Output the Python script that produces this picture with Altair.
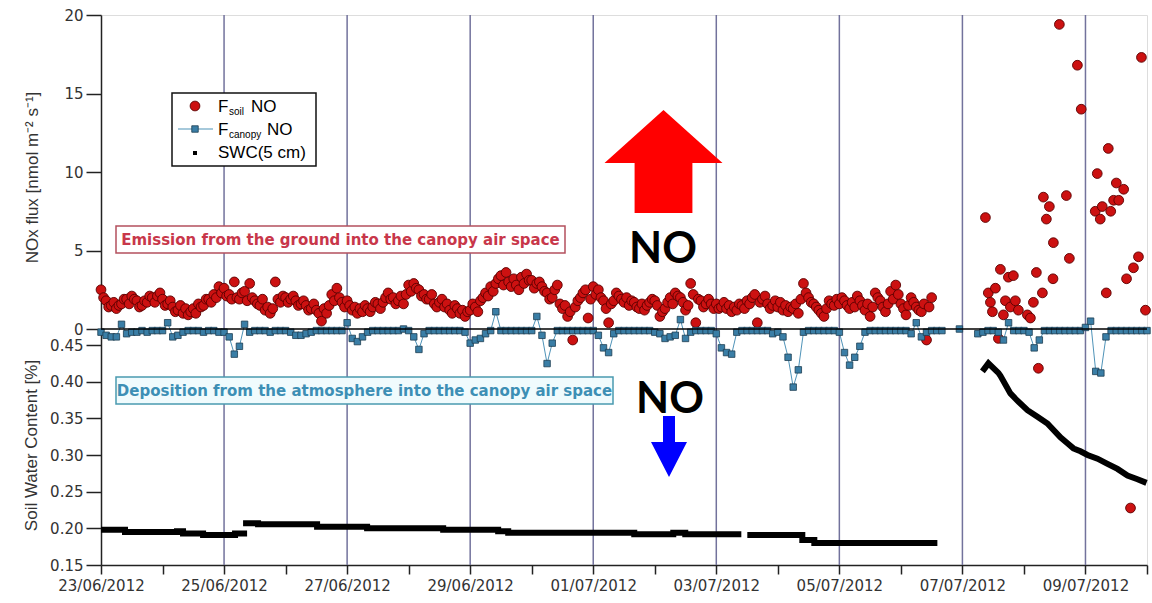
import altair as alt
import pandas as pd

# ---------------- time frame ----------------
X_START = alt.DateTime(year=2012, month=6, date=23)
X_END = alt.DateTime(year=2012, month=7, date=10)
axis_days = [(6, d) for d in range(23, 31)] + [(7, d) for d in range(1, 11)]
grid_dates = ["2012-06-25", "2012-06-27", "2012-06-29", "2012-07-01",
              "2012-07-03", "2012-07-05", "2012-07-07", "2012-07-09"]

# ---------------- F_soil NO [nmol m-2 s-1] ----------------
# hourly values from 23/06/2012 00:00, split into even and odd hours
soil_even_start = "2012-06-23 00:00"
soil_no_even = [
    2.5, 1.8, 1.5, 1.3, 1.6, 1.9, 2.1, 1.8, 1.5, 1.7, 2.0, 2.1,
    1.9, 1.6, 1.4, 1.2, 1.0, 0.9, 1.3, 1.6, 1.5, 1.9, 2.2, 2.7,
    2.6, 2.2, 3.0, 1.9, 2.4, 2.9, 1.8, 1.5, 1.2, 1.0, 3.0, 1.7,
    2.0, 1.9, 1.8, 1.6, 1.5, 1.3, 1.2, 0.5, 1.0, 2.2, 2.6, 1.7,
    1.8, 1.2, 1.0, 1.1, 1.3, 1.4, 1.6, 1.7, 2.3, 2.0, 1.8, 1.6,
    2.8, 2.9, 2.5, 2.2, 1.9, 1.6, 1.7, 1.4, 1.2, 1.5, 1.0, 0.8,
    1.2, 1.4, 1.8, 2.3, 2.7, 2.9, 3.4, 3.6, 2.7, 2.8, 3.3, 3.5,
    3.1, 2.9, 2.7, 2.3, 2.0, 2.8, 1.3, 0.8, -0.7, 1.8, 2.3, 0.7,
    2.7, 2.5, 1.8, 0.4, 1.8, 2.1, 1.7, 1.5, 1.7, 1.3, 1.2, 1.7,
    1.8, 0.8, 1.3, 2.0, 2.3, 2.0, 1.2, 2.9, 0.4, 1.8, 1.6, 1.6,
    1.6, 1.4, 1.3, 1.1, 1.2, 1.5, 1.8, 2.0, 0.4, 1.9, 1.6, 1.5,
    1.4, 1.2, 1.1, 1.3, 1.0, 2.9, 2.0, 1.6, 1.2, 0.8, 1.8, 1.5,
    1.6, 1.8, 1.3, 1.4, 1.8, 1.2, 0.8, 2.3, 1.8, 1.1, 2.4, 2.8,
    1.6, 0.9, 2.0, 1.4, 1.1, -0.7, 2.0,
]
soil_odd_start = "2012-06-23 01:00"
soil_no_odd = [
    2.0, 1.4, 1.7, 1.5, 1.9, 1.6, 1.9, 1.4, 1.8, 2.1, 1.7, 2.3,
    1.5, 1.8, 1.1, 1.5, 1.3, 1.1, 1.0, 1.4, 1.9, 1.7, 2.0, 2.3,
    2.1, 1.9, 2.0, 2.3, 1.8, 2.0, 1.6, 1.9, 1.4, 1.3, 1.9, 2.1,
    1.7, 2.1, 1.5, 1.8, 1.2, 1.6, 1.0, 1.3, 1.5, 1.8, 2.0, 1.4,
    1.5, 1.4, 1.3, 1.5, 1.1, 1.7, 1.3, 2.0, 1.9, 1.6, 2.1, 2.2,
    2.4, 2.6, 2.1, 1.9, 2.2, 1.4, 1.9, 1.6, 1.0, 1.3, 1.2, 1.1,
    1.6, 1.1, 2.0, 2.1, 2.4, 3.2, 2.8, 3.0, 3.2, 2.5, 2.9, 3.1,
    2.6, 3.0, 2.4, 1.9, 2.5, 1.6, 1.5, 1.1, 1.4, 2.0, 2.5, 1.9,
    2.2, 2.0, 1.3, 1.6, 2.3, 1.9, 2.0, 1.8, 1.4, 1.6, 1.5, 1.9,
    1.5, 1.1, 1.7, 1.6, 2.1, 1.7, 1.5, 2.2, 1.9, 1.4, 1.9, 1.3,
    1.3, 1.7, 1.5, 1.4, 1.6, 1.3, 1.6, 2.2, 1.7, 2.1, 1.3, 1.8,
    1.7, 1.5, 1.4, 1.6, 1.9, 2.3, 1.7, 1.4, 1.0, 1.3, 1.6, 1.9,
    2.0, 1.5, 1.7, 2.1, 1.5, 1.6, 1.4, 2.0, 1.4, 1.6, 1.9, 2.2,
    1.3, 1.5, 1.7, 1.2, 1.6, 1.4,
]
# irregular measurements after the gap
soil_late_time = [
    "2012-07-07 08:59", "2012-07-07 10:06", "2012-07-07 10:55", "2012-07-07 11:42",
    "2012-07-07 12:52", "2012-07-07 14:02", "2012-07-07 14:49", "2012-07-07 15:59",
    "2012-07-07 16:46", "2012-07-07 17:56", "2012-07-07 18:43", "2012-07-07 19:53",
    "2012-07-07 20:40", "2012-07-07 21:50", "2012-07-08 01:21", "2012-07-08 02:31",
    "2012-07-08 03:41", "2012-07-08 04:51", "2012-07-08 05:38", "2012-07-08 07:12",
    "2012-07-08 07:35", "2012-07-08 08:45", "2012-07-08 09:55", "2012-07-08 11:29",
    "2012-07-08 11:20", "2012-07-08 13:49", "2012-07-08 16:33", "2012-07-08 17:43",
    "2012-07-08 20:51", "2012-07-08 22:21", "2012-07-09 03:49", "2012-07-09 04:36",
    "2012-07-09 05:46", "2012-07-09 06:33", "2012-07-09 08:07", "2012-07-09 08:54",
    "2012-07-09 09:51", "2012-07-09 10:58", "2012-07-09 12:02", "2012-07-09 12:59",
    "2012-07-09 14:54", "2012-07-09 16:01", "2012-07-09 17:34", "2012-07-09 18:43",
    "2012-07-09 20:40", "2012-07-09 21:50", "2012-07-09 23:24",
]
soil_late = [
    7.1, 2.3, 1.7, 1.1, 2.6, -0.6, 3.8, 0.9, 1.8, 3.3, 1.4, 3.4,
    1.8, 1.2, 0.9, 0.7, 1.7, 3.6, -2.5, 2.3, 8.4, 7.0, 7.8, 5.5,
    3.2, 19.4, 8.5, 4.5, 16.8, 14.0, 7.5, 9.9, 7.0, 7.8, 2.3, 11.5,
    7.5, 8.2, 9.3, 8.2, 8.9, 3.2, -11.4, 3.9, 4.6, 17.3, 1.2,
]

# ---------------- F_canopy NO [nmol m-2 s-1] ----------------
canopy_start = "2012-06-23 00:00"
canopy_no = [
    -0.2, -0.4, -0.5, -0.5, 0.3, -0.3, -0.2, -0.2, -0.1, -0.2, -0.1, -0.1,
    -0.1, 0.4, -0.5, -0.4, -0.2, -0.1, -0.1, -0.1, -0.2, -0.1, -0.1, -0.2,
    -0.2, -0.5, -1.6, -1.1, 0.3, -0.2, -0.1, -0.1, -0.1, -0.2, -0.1, -0.1,
    -0.1, -0.2, -0.4, -0.4, -0.3, -0.2, -0.1, -0.1, -0.1, -0.1, -0.1, -0.1,
    0.4, -0.6, -0.8, -0.5, -0.2, -0.1, -0.1, -0.1, -0.1, -0.1, -0.1, 0.0,
    -0.1, -0.5, -1.3, -0.3, -0.1, -0.1, -0.1, -0.1, -0.1, -0.1, -0.1, -0.2,
    -0.9, -0.7, -0.6, -0.3, -0.1, 1.1, -0.1, -0.1, -0.1, -0.1, -0.1, -0.1,
    -0.1, 0.8, -0.4, -2.2, -0.9, -0.1, -0.1, -0.1, -0.1, -0.1, -0.1, -0.1,
    -0.1, -0.4, -1.2, -1.5, -0.3, -0.1, -0.1, -0.1, -0.1, -0.1, -0.1, -0.1,
    -0.2, -0.3, -0.6, -0.5, -0.4, 0.6, -0.6, -0.2, -0.1, -0.1, -0.1, -0.1,
    -0.3, -1.2, -1.5, -1.6, -0.2, -0.1, -0.1, -0.1, -0.1, -0.1, -0.1, -0.3,
    -0.2, -0.5, -1.8, -3.7, -2.6, -0.2, -0.1, -0.1, -0.1, -0.1, -0.1, -0.1,
    -0.2, -1.5, -2.3, -1.8, -1.1, -0.2, -0.1, -0.1, -0.1, -0.1, -0.1, -0.1,
    -0.1, -0.1, -0.3, 0.4, -0.5, -0.2, -0.1, -0.1, -0.1,
]
canopy_single_time = ["2012-07-06 22:50"]
canopy_single = [0.0]
canopy_late_start = "2012-07-07 06:00"
canopy_late = [
    -0.3, -0.2, -0.1, -0.1, -0.2, -0.7, 0.4, -0.1, -0.1, -0.1, -0.2, -1.2,
    -0.7, -0.1, -0.1, -0.1, -0.1, -0.1, -0.1, -0.1, -0.1, 0.1, 0.5, -2.7,
    -2.8, -0.5, -0.1, -0.1, -0.1, -0.1, -0.1, -0.1, -0.1, -0.1,
]

# ---------------- SWC (5 cm) ----------------
swc_time = [
    "2012-06-23 00:00", "2012-06-23 09:22", "2012-06-23 09:22", "2012-06-24 05:39",
    "2012-06-24 05:39", "2012-06-24 08:00", "2012-06-24 08:00", "2012-06-24 15:49",
    "2012-06-24 15:49", "2012-06-25 04:17", "2012-06-25 04:17", "2012-06-25 08:59",
    "2012-06-25 07:25", "2012-06-25 13:16", "2012-06-25 13:16", "2012-06-26 12:17",
    "2012-06-26 12:17", "2012-06-27 07:48", "2012-06-27 07:48", "2012-06-28 13:28",
    "2012-06-28 13:28", "2012-06-29 10:55", "2012-06-29 10:55", "2012-06-29 14:50",
    "2012-06-29 14:50", "2012-07-01 16:00", "2012-07-01 16:00", "2012-07-02 07:13",
    "2012-07-02 07:13", "2012-07-02 11:54", "2012-07-02 11:54", "2012-07-03 09:46",
    "2012-07-03 12:06", "2012-07-04 09:33", "2012-07-04 09:33", "2012-07-04 14:14",
    "2012-07-04 14:14", "2012-07-06 14:14",
    "2012-07-07 07:48", "2012-07-07 10:09", "2012-07-07 14:02", "2012-07-07 14:50",
    "2012-07-07 18:43", "2012-07-07 21:27", "2012-07-08 01:22", "2012-07-08 05:16",
    "2012-07-08 09:10", "2012-07-08 14:14", "2012-07-08 16:58", "2012-07-08 19:19",
    "2012-07-08 22:03", "2012-07-09 00:47", "2012-07-09 04:41", "2012-07-09 08:35",
    "2012-07-09 12:29", "2012-07-09 16:23", "2012-07-09 20:18", "2012-07-09 23:48",
]
swc_value = [
    0.198, 0.198, 0.195, 0.195, 0.196, 0.196, 0.193, 0.193,
    0.191, 0.191, 0.193, 0.193,
    0.207, 0.207, 0.2055, 0.2055, 0.202, 0.202, 0.200, 0.200,
    0.198, 0.198, 0.196, 0.196, 0.194, 0.194, 0.192, 0.192,
    0.194, 0.194, 0.192, 0.192,
    0.191, 0.191, 0.184, 0.184, 0.180, 0.180,
    0.414, 0.425, 0.412, 0.408, 0.384, 0.374, 0.361, 0.352,
    0.343, 0.324, 0.316, 0.309, 0.305, 0.300, 0.295, 0.288,
    0.281, 0.272, 0.267, 0.262,
]
swc_run = [1] * 12 + [2] * 20 + [3] * 6 + [4] * 20

# ---------------- tables ----------------
soil_df = pd.concat([
    pd.DataFrame({"time": pd.date_range(soil_even_start, periods=len(soil_no_even), freq="2h"),
                  "flux": soil_no_even}),
    pd.DataFrame({"time": pd.date_range(soil_odd_start, periods=len(soil_no_odd), freq="2h"),
                  "flux": soil_no_odd}),
    pd.DataFrame({"time": pd.to_datetime(soil_late_time), "flux": soil_late}),
], ignore_index=True).sort_values("time")

canopy_df = pd.concat([
    pd.DataFrame({"time": pd.date_range(canopy_start, periods=len(canopy_no), freq="2h"),
                  "flux": canopy_no, "run": 1}),
    pd.DataFrame({"time": pd.to_datetime(canopy_single_time), "flux": canopy_single, "run": 2}),
    pd.DataFrame({"time": pd.date_range(canopy_late_start, periods=len(canopy_late), freq="2h"),
                  "flux": canopy_late, "run": 3}),
], ignore_index=True)

swc_df = pd.DataFrame({"time": pd.to_datetime(swc_time), "swc": swc_value, "run": swc_run})
grid_df = pd.DataFrame({"time": pd.to_datetime(grid_dates)})

# ---------------- scales / axes ----------------
LABEL_FONT = "DejaVu Sans"
TITLE_FONT = "Liberation Sans"
INK = "#333333"

x_axis = alt.Axis(
    values=[alt.DateTime(year=2012, month=m, date=d) for m, d in axis_days],
    labelExpr="date(datum.value) % 2 == 1 ? timeFormat(datum.value, '%d/%m/%Y') : ''",
    labelFont=LABEL_FONT, labelFontSize=15, labelColor=INK, labelPadding=4,
    labelFlush=False, labelOverlap=False,
    tickSize=9, tickColor="#222", tickWidth=1.5,
    domainColor="#222", domainWidth=1.5, grid=False, title=None,
)
x_scale = alt.Scale(domain=[X_START, X_END])


def xenc():
    return alt.X("time:T", scale=x_scale, axis=x_axis)


FLUX_DOMAIN = [-15.03, 20]
SWC_DOMAIN = [0.15, 0.90]

flux_axis = alt.Axis(
    orient="left", values=[0, 5, 10, 15, 20], format="d",
    labelFont=LABEL_FONT, labelFontSize=15, labelColor=INK, labelPadding=3,
    tickSize=15, tickColor="#222", tickWidth=1.5,
    domainColor="#222", domainWidth=1.5, grid=False,
    title="NOx flux [nmol m\u207b\u00b2 s\u207b\u00b9]",
    titleFont=TITLE_FONT, titleFontSize=17, titleFontWeight="normal",
    titleColor=INK, titleX=-69, titleY=162, titleAngle=270,
    titleAlign="center", titleBaseline="middle",
)
swc_axis = alt.Axis(
    orient="left", values=[0.15, 0.20, 0.25, 0.30, 0.35, 0.40, 0.45], format=".2f",
    labelFont=LABEL_FONT, labelFontSize=15, labelColor=INK, labelPadding=3,
    tickSize=15, tickColor="#222", tickWidth=1.5,
    domain=False, grid=False,
    title="Soil Water Content [%]",
    titleFont=TITLE_FONT, titleFontSize=17, titleFontWeight="normal",
    titleColor=INK, titleX=-70, titleY=430, titleAngle=270,
    titleAlign="center", titleBaseline="middle",
)


def yflux(show_axis=False):
    return alt.Y("flux:Q", scale=alt.Scale(domain=FLUX_DOMAIN, nice=False, zero=False),
                 axis=flux_axis if show_axis else None)


def yswc(show_axis=False):
    return alt.Y("swc:Q", scale=alt.Scale(domain=SWC_DOMAIN, nice=False, zero=False),
                 axis=swc_axis if show_axis else None)


RED = "#cc1111"
RED_EDGE = "#5a0000"
TEAL = "#3a7ea6"
TEAL_EDGE = "#1d3d52"
TEAL_LINE = "#4f93b8"

# ---------------- data layers ----------------
grid = alt.Chart(grid_df).mark_rule(color="#72729c", strokeWidth=1.5).encode(x=xenc())

soil = alt.Chart(soil_df).mark_circle(
    size=95, color=RED, opacity=1, stroke=RED_EDGE, strokeWidth=0.9
).encode(x=xenc(), y=yflux(True))

canopy_line = alt.Chart(canopy_df).mark_line(color=TEAL_LINE, strokeWidth=1).encode(
    x=xenc(), y=yflux(), detail="run:N")
canopy_pts = alt.Chart(canopy_df).mark_square(
    size=42, color=TEAL, opacity=1, stroke=TEAL_EDGE, strokeWidth=0.8
).encode(x=xenc(), y=yflux())

zero_line = alt.Chart(pd.DataFrame({"flux": [0.0]})).mark_rule(
    color="black", strokeWidth=1.5
).encode(y=yflux())

swc_line = alt.Chart(swc_df).mark_line(
    color="black", strokeWidth=6, strokeCap="butt"
).encode(x=xenc(), y=yswc(True), detail="run:N")

# ---------------- legend and annotations (pixel placed) ----------------
one = alt.Data(values=[{}])


def box(x1, y1, x2, y2, fill, stroke, sw=1.5):
    return alt.Chart(one).mark_rect(fill=fill, stroke=stroke, strokeWidth=sw).encode(
        x=alt.value(x1), x2=alt.value(x2), y=alt.value(y1), y2=alt.value(y2))


def label(txt, x, y, size, color="black", font="Liberation Sans", weight="normal",
          align="left", baseline="middle"):
    return alt.Chart(one).mark_text(
        text=txt, fontSize=size, color=color, font=font, fontWeight=weight,
        align=align, baseline=baseline
    ).encode(x=alt.value(x), y=alt.value(y))


legend_layers = [
    box(71, 78, 215, 151, "white", "#111111"),
    alt.Chart(one).mark_circle(size=95, color=RED, opacity=1, stroke=RED_EDGE,
                               strokeWidth=0.9).encode(x=alt.value(94), y=alt.value(91)),
    label("F", 117, 92, 17),
    label("soil", 128, 97, 10),
    label("NO", 150, 92, 17),
    alt.Chart(one).mark_rule(color=TEAL_LINE, strokeWidth=1.2).encode(
        x=alt.value(77), x2=alt.value(112), y=alt.value(114)),
    alt.Chart(one).mark_square(size=42, color=TEAL, opacity=1, stroke=TEAL_EDGE,
                               strokeWidth=0.8).encode(x=alt.value(94), y=alt.value(114)),
    label("F", 117, 115, 17),
    label("canopy", 128, 120, 10),
    label("NO", 166, 115, 17),
    alt.Chart(one).mark_square(size=16, color="black", opacity=1).encode(
        x=alt.value(94), y=alt.value(138)),
    label("SWC(5 cm)", 117, 138, 17),
]

emission = [
    box(15, 211, 464, 238, "white", "#b4505e"),
    label("Emission from the ground into the canopy air space", 239.5, 225, 15,
          color="#c8374a", font="DejaVu Sans", weight="bold", align="center"),
]
deposition = [
    box(15, 362, 512, 389, "#f0fbfd", "#4a9ab0"),
    label("Deposition from the atmosphere into the canopy air space", 263.5, 376, 15,
          color="#3d8fb5", font="DejaVu Sans", weight="bold", align="center"),
]

up_arrow = "M0,-0.873L1,0.025L0.49,0.025L0.49,0.873L-0.49,0.873L-0.49,0.025L-1,0.025Z"
down_arrow = "M-0.333,-1.694L0.333,-1.694L0.333,-0.25L1,-0.25L0,1.694L-1,-0.25L-0.333,-0.25Z"

arrows = [
    alt.Chart(one).mark_point(shape=up_arrow, size=13924, filled=True, color="#ff0000",
                              opacity=1, strokeWidth=0).encode(
        x=alt.value(562.5), y=alt.value(146.5)),
    label("NO", 562, 248, 43, font="Lato", weight="bold", align="center",
          baseline="alphabetic"),
    label("NO", 569, 398, 43, font="Lato", weight="bold", align="center",
          baseline="alphabetic"),
    alt.Chart(one).mark_point(shape=down_arrow, size=1296, filled=True, color="#0000ff",
                              opacity=1, strokeWidth=0).encode(
        x=alt.value(568), y=alt.value(431.5)),
]

chart = alt.layer(
    grid, *emission, *deposition, soil, canopy_line, canopy_pts, zero_line, swc_line,
    *legend_layers, *arrows,
).resolve_scale(y="independent").properties(
    width=1046, height=550,
    autosize=alt.AutoSizeParams(type="none"),
    padding={"left": 101, "top": 15, "right": 5, "bottom": 38},
).configure_view(stroke="#222222", strokeWidth=1.5).configure(background="white")

chart.save("out.html", embed_options={"renderer": "svg", "actions": False})
